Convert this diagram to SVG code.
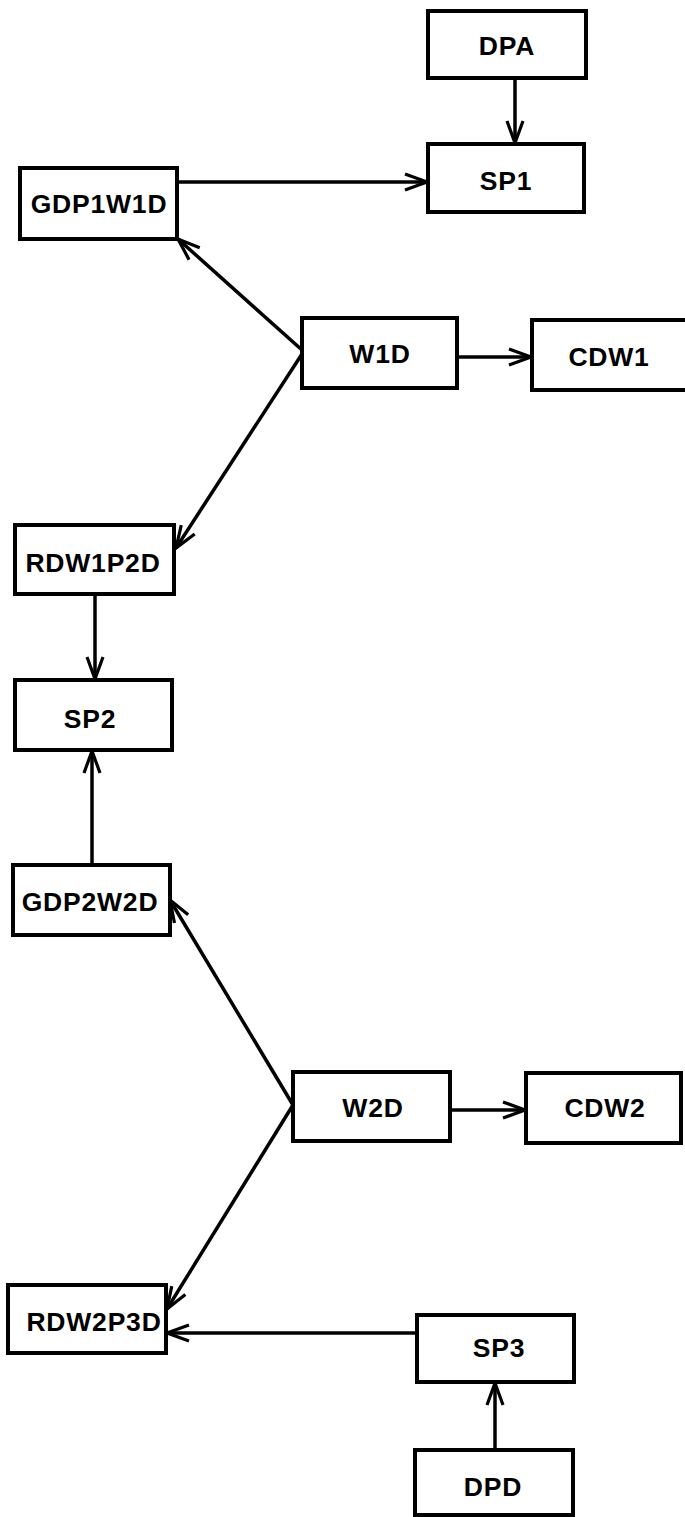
<svg xmlns="http://www.w3.org/2000/svg" width="685" height="1517" viewBox="0 0 685 1517">
  <style>
    .box { fill: #fff; stroke: #000; stroke-width: 4; }
    .lbl { font-family: "Liberation Sans", Arial, Helvetica, sans-serif; font-weight: bold; font-size: 26.5px; text-anchor: middle; fill: #000; letter-spacing: 0.8px; }
    .edge { fill: none; stroke: #000; stroke-width: 3.5; marker-end: url(#ah); }
  </style>
  <defs>
    <!-- open V arrowhead -->
    <marker id="ah" viewBox="-26 -12 30 24" refX="0" refY="0" markerWidth="30" markerHeight="24" markerUnits="userSpaceOnUse" orient="auto">
      <path d="M-22,-8 L0,0 L-22,8" fill="none" stroke="#000" stroke-width="3.2"/>
    </marker>
  </defs>
  <rect width="685" height="1517" fill="#fff"/>

  <g id="connectors">
    <line class="edge" x1="515" y1="78" x2="515" y2="143"/>
    <line class="edge" x1="177" y1="182" x2="427" y2="182"/>
    <line class="edge" x1="302" y1="350" x2="178" y2="239"/>
    <line class="edge" x1="302" y1="354" x2="176" y2="548"/>
    <line class="edge" x1="457" y1="357" x2="531" y2="357"/>
    <line class="edge" x1="95" y1="594" x2="95" y2="679"/>
    <line class="edge" x1="92" y1="865" x2="92" y2="751"/>
    <line class="edge" x1="293" y1="1105" x2="170" y2="900"/>
    <line class="edge" x1="293" y1="1105" x2="167" y2="1309"/>
    <line class="edge" x1="450" y1="1110" x2="525" y2="1110"/>
    <line class="edge" x1="417" y1="1333" x2="167" y2="1333"/>
    <line class="edge" x1="495" y1="1450" x2="495" y2="1383"/>
  </g>

  <g id="DPA">
    <rect class="box" x="428" y="11" width="158" height="67"/>
    <text class="lbl" x="507" y="55">DPA</text>
  </g>
  <g id="SP1">
    <rect class="box" x="428" y="144" width="156" height="68"/>
    <text class="lbl" x="506" y="190">SP1</text>
  </g>
  <g id="GDP1W1D">
    <rect class="box" x="20" y="168" width="157" height="71"/>
    <text class="lbl" x="99" y="213">GDP1W1D</text>
  </g>
  <g id="W1D">
    <rect class="box" x="302" y="318" width="155" height="70"/>
    <text class="lbl" x="380" y="363">W1D</text>
  </g>
  <g id="CDW1">
    <rect class="box" x="532" y="320" width="160" height="70"/>
    <text class="lbl" x="609" y="366">CDW1</text>
  </g>
  <g id="RDW1P2D">
    <rect class="box" x="15" y="525" width="159" height="69"/>
    <text class="lbl" x="93" y="572">RDW1P2D</text>
  </g>
  <g id="SP2">
    <rect class="box" x="15" y="680" width="157" height="70"/>
    <text class="lbl" x="90" y="728">SP2</text>
  </g>
  <g id="GDP2W2D">
    <rect class="box" x="13" y="865" width="157" height="70"/>
    <text class="lbl" x="90" y="911">GDP2W2D</text>
  </g>
  <g id="W2D">
    <rect class="box" x="293" y="1072" width="157" height="69"/>
    <text class="lbl" x="373" y="1117">W2D</text>
  </g>
  <g id="CDW2">
    <rect class="box" x="526" y="1073" width="155" height="70"/>
    <text class="lbl" x="605" y="1117">CDW2</text>
  </g>
  <g id="RDW2P3D">
    <rect class="box" x="8" y="1285" width="158" height="68"/>
    <text class="lbl" x="94" y="1331">RDW2P3D</text>
  </g>
  <g id="SP3">
    <rect class="box" x="417" y="1315" width="157" height="67"/>
    <text class="lbl" x="499" y="1357">SP3</text>
  </g>
  <g id="DPD">
    <rect class="box" x="415" y="1450" width="158" height="65"/>
    <text class="lbl" x="493" y="1496">DPD</text>
  </g>
</svg>
